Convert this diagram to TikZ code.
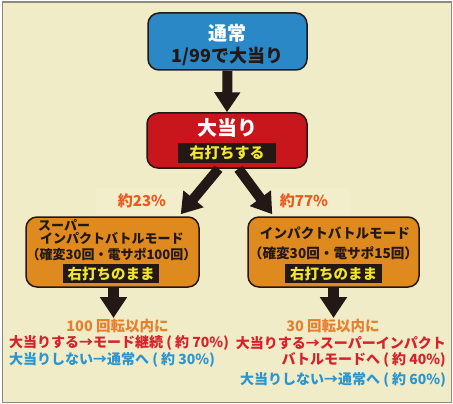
\documentclass[tikz,border=0pt]{standalone}
\usepackage{fontspec}
\setmainfont{Noto Sans CJK JP}
\usetikzlibrary{arrows.meta,calc}
\definecolor{bgc}{HTML}{F1ECC8}
\definecolor{framec}{HTML}{8C8A80}
\definecolor{ink}{HTML}{231815}
\definecolor{blueb}{HTML}{2A88C6}
\definecolor{redb}{HTML}{C9161D}
\definecolor{orangeb}{HTML}{DE8A1F}
\definecolor{bandtxt}{HTML}{F0E62E}
\definecolor{pctc}{HTML}{EA5A1E}
\definecolor{orangetxt}{HTML}{E5802F}
\definecolor{redtxt}{HTML}{D7212B}
\definecolor{bluetxt}{HTML}{2B95CF}
\definecolor{hilite}{HTML}{F2EDCB}
\newcommand{\fs}[1]{\fontsize{#1}{#1}\selectfont}
\begin{document}
\begin{tikzpicture}[x=1pt,y=-1pt,font=\bfseries,
  box/.style={draw=ink,line width=1.5pt,rounded corners=11pt,inner sep=0pt},
  band/.style={fill=ink,inner sep=0pt,text=bandtxt},
  fatarrow/.style={draw=ink,line width=11pt,-{Triangle[length=21pt,width=26pt]}},
  thinarrow/.style={fatarrow,line width=10pt,-{Triangle[length=20pt,width=25pt]}},
  txt/.style={inner sep=0pt}]
\useasboundingbox (0,0) rectangle (453,404);
\node[draw=framec,line width=1.5pt,fill=bgc,minimum width=449pt,minimum height=400pt,inner sep=0pt,anchor=north west] (frame) at (1.5,1.5) {};
% boxes
\node[box,fill=blueb,minimum width=159pt,minimum height=57pt] (top) at (227.5,41.5) {};
\node[txt,text=white,font=\bfseries\fs{19}] (topA) at (227.5,33) {通常};
\node[txt,text=ink,font=\bfseries\fs{18}] (topB) at (227.5,56) {1/99で大当り};
\node[box,fill=redb,minimum width=160pt,minimum height=55pt] (mid) at (227,140.5) {};
\node[txt,text=white,font=\bfseries\fs{20}] (midA) at (227,128) {大当り};
\node[band,minimum width=98pt,minimum height=20pt,font=\bfseries\fs{15}] (midB) at (227,153) {右打ちする};
\node[box,fill=orangeb,minimum width=173pt,minimum height=70pt] (left) at (112.5,252) {};
\node[txt,anchor=west,text=ink,font=\bfseries\fs{13}] (leftA) at (38,225) {スーパー};
\node[txt,anchor=west,text=ink,font=\bfseries\fs{13}] (leftB) at (40,238) {インパクトバトルモード};
\node[txt,text=ink,font=\bfseries\fs{13}] (leftC) at (111.5,254) {（確変30回・電サポ100回）};
\node[band,minimum width=96pt,minimum height=19pt,font=\bfseries\fs{14.5}] (leftD) at (111,273.5) {右打ちのまま};
\node[box,fill=orangeb,minimum width=171pt,minimum height=70pt] (right) at (333.5,252) {};
\node[txt,text=ink,font=\bfseries\fs{13.6}] (rightA) at (335,233) {インパクトバトルモード};
\node[txt,text=ink,font=\bfseries\fs{13.6}] (rightB) at (333.5,253) {（確変30回・電サポ15回）};
\node[band,minimum width=97pt,minimum height=19pt,font=\bfseries\fs{14.5}] (rightC) at (333.5,273.5) {右打ちのまま};
% percentage labels
\node[txt,fill=hilite,minimum width=92pt,minimum height=27pt,text=pctc,font=\bfseries\fs{15}] (pL) at (142,201) {約23\%};
\node[txt,fill=hilite,minimum width=92pt,minimum height=27pt,text=pctc,font=\bfseries\fs{15}] (pR) at (304,201) {約77\%};
% arrows
\draw[thinarrow] (top.south) -- (mid.north);
\draw[thinarrow] ($(mid.south)+(-8.5,0)$) -- ($(left.north east)+(-19,-2)$);
\draw[thinarrow] ($(mid.south)+(11.5,0)$) -- ($(right.north west)+(25,-2)$);
\coordinate (endL) at (113.5,318);
\coordinate (endR) at (333.5,318);
\draw[fatarrow] ($(left.south)+(1,0)$) -- (endL);
\draw[fatarrow] (right.south) -- (endR);
% outcome texts
\node[txt,text=orangetxt,font=\bfseries\fs{14.5}] (lA) at (117.5,326) {100 回転以内に};
\node[txt,anchor=west,text=redtxt,font=\bfseries\fs{14}] (lB) at (9,343) {大当りする→モード継続 ( 約 70\%)};
\node[txt,anchor=west,text=bluetxt,font=\bfseries\fs{14}] (lC) at (9,360) {大当りしない→通常へ ( 約 30\%)};
\node[txt,text=orangetxt,font=\bfseries\fs{14.5}] (rA) at (333,326) {30 回転以内に};
\node[txt,anchor=east,text=redtxt,font=\bfseries\fs{14}] (rB) at (446,343) {大当りする→スーパーインパクト};
\node[txt,anchor=east,text=redtxt,font=\bfseries\fs{14}] (rC) at (446,360) {バトルモードへ ( 約 40\%)};
\node[txt,anchor=west,text=bluetxt,font=\bfseries\fs{14}] (rD) at (240,380) {大当りしない→通常へ ( 約 60\%)};
\end{tikzpicture}
\end{document}
